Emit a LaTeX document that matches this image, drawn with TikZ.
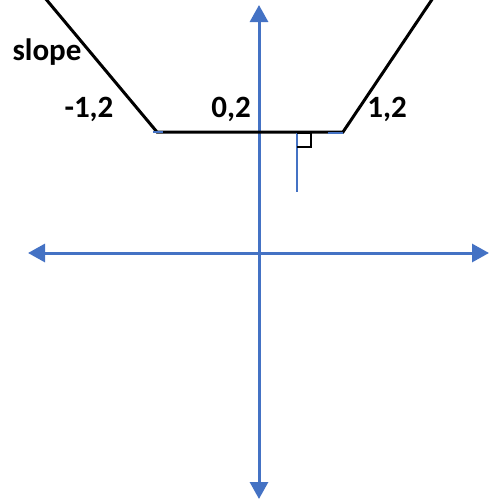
\documentclass[tikz,border=0pt]{standalone}
\usepackage{fontspec}
\setmainfont{Carlito}
\usetikzlibrary{arrows.meta}
\definecolor{axblue}{RGB}{68,114,196}
\begin{document}
\begin{tikzpicture}[x=1pt,y=-1pt,
  axis/.style={draw=axblue,line width=3pt,{Triangle[length=17pt,width=18pt]}-{Triangle[length=17pt,width=18pt]}},
  curve/.style={draw=black,line width=3pt},
  lbl/.style={font=\fontsize{31}{31}\selectfont\bfseries,inner sep=0pt,anchor=base}]
\useasboundingbox (0,0) rectangle (490,501);
\coordinate (L) at (28,253);
\coordinate (R) at (489,253);
\coordinate (T) at (259,5);
\coordinate (B) at (259,499);
\coordinate (p0) at (45,-2);
\coordinate (p1) at (157,132);
\coordinate (p2) at (343,132);
\coordinate (p3) at (433,-2);
\coordinate (n0) at (296.5,133);
\coordinate (n1) at (296.5,192);
\path[axis] (L) -- (R);
\path[axis] (T) -- (B);
\draw[curve,line join=miter] (p0) -- (p1) -- (p2) -- (p3);
\draw[axblue,line width=2.5pt] (153,132) -- (163,132);
\draw[axblue,line width=2.5pt] (328,133) -- (343,133);
\draw[axblue,line width=2pt] (n0) -- (n1);
\draw[black,line width=2pt] (297,133) -- (310.5,133) -- (310.5,146.5) -- (297,146.5);
\node[lbl] (slope) at (47,60) {slope};
\node[lbl] (lm) at (89,117) {-1,2};
\node[lbl] (lz) at (231,117) {0,2};
\node[lbl] (lp) at (387,117) {1,2};
\end{tikzpicture}
\end{document}
